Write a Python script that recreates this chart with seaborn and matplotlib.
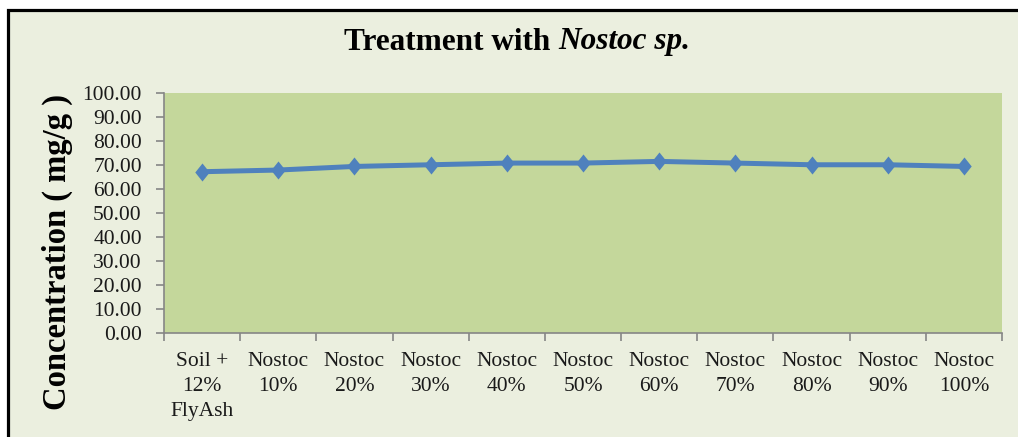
import matplotlib
matplotlib.use("Agg")
import matplotlib.pyplot as plt
import seaborn as sns
import pandas as pd
from matplotlib.patches import Rectangle

categories = ["Soil +\n12%\nFlyAsh", "Nostoc\n10%", "Nostoc\n20%", "Nostoc\n30%", "Nostoc\n40%",
              "Nostoc\n50%", "Nostoc\n60%", "Nostoc\n70%", "Nostoc\n80%", "Nostoc\n90%", "Nostoc\n100%"]
values = [67.2, 67.9, 69.4, 70.1, 70.8, 70.8, 71.5, 70.8, 70.1, 70.1, 69.4]
y_ticks = [0, 10, 20, 30, 40, 50, 60, 70, 80, 90, 100]

sns.set_theme(style="white")
plt.rcParams['font.family'] = ['Liberation Serif', 'DejaVu Serif']

W, H = 1018, 437
fig = plt.figure(figsize=(W / 100, H / 100), dpi=100)
fig.patch.set_facecolor("white")
fig.patches.append(Rectangle((8 / W, -0.05), 1.1, 1 - 10 / H + 0.05,
                             transform=fig.transFigure, facecolor="#EBEFDF",
                             edgecolor="black", linewidth=2.3, zorder=-5))

ax = fig.add_axes([164 / W, 1 - 333 / H, (1002 - 164) / W, (333 - 93) / H])
ax.set_zorder(2)
ax.set_facecolor("#C4D79B")

diamond = [(0, 1), (0.8, 0), (0, -1), (-0.8, 0), (0, 1)]
df = pd.DataFrame({"x": list(range(len(categories))), "y": values})
sns.lineplot(data=df, x="x", y="y", ax=ax, color="#4F81BD", linewidth=3.6,
             marker=diamond, markersize=13, markeredgewidth=0, markerfacecolor="#4F81BD")

ax.set_xlim(-0.5, len(categories) - 0.5)
ax.set_ylim(0, 100)
ax.set_yticks(y_ticks)
ax.set_yticklabels([f"{v:.2f}" for v in y_ticks], fontsize=15.5, color="#1a1a1a")
ax.set_xticks(range(len(categories)))
ax.set_xticklabels(categories, fontsize=15.5, color="#1a1a1a", linespacing=1.4)
ax.set_xticks([i - 0.5 for i in range(len(categories) + 1)], minor=True)
ax.tick_params(axis="x", which="major", length=0, pad=14)
ax.tick_params(axis="x", which="minor", length=6, width=1.2, color="#868686", direction="out", bottom=True)
ax.tick_params(axis="y", length=6, width=1.2, color="#868686", direction="out", left=True, pad=10)
for s in ["top", "right"]:
    ax.spines[s].set_visible(False)
for s in ["left", "bottom"]:
    ax.spines[s].set_color("#868686")
    ax.spines[s].set_linewidth(1.2)
ax.set_xlabel("")
ax.set_ylabel("Concentration ( mg/g )", fontsize=23.5, fontweight="bold", color="black")
ax.yaxis.set_label_coords(-0.108, 0.3375)

# Title: bold part + bold italic part
fig.canvas.draw()
r = fig.canvas.get_renderer()
t1 = fig.text(0, 1 - 42 / H, "Treatment with ", fontsize=22.5, fontweight="bold",
              color="black", va="center", ha="left")
t2 = fig.text(0, 1 - 42 / H, "Nostoc sp.", fontsize=22.5, fontweight="bold", style="italic",
              color="black", va="center", ha="left")
w1 = t1.get_window_extent(r).width
w2 = t2.get_window_extent(r).width
start = 517 - (w1 + w2) / 2
t1.set_x(start / W)
t2.set_x((start + w1) / W)

fig.savefig("out.png", dpi=100)
